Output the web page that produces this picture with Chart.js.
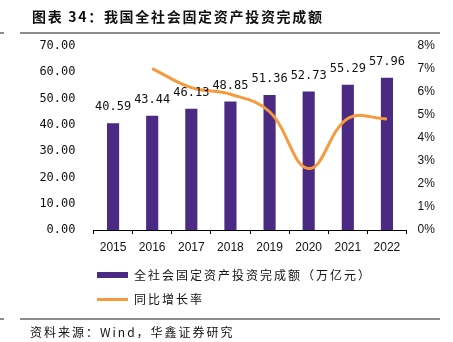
<!DOCTYPE html>
<html>
<head>
<meta charset="utf-8">
<script src="https://cdn.jsdelivr.net/npm/chart.js@4.4.0/dist/chart.umd.min.js"></script>
<style>
  body { margin: 0; background: #fff; }
  #wrap { position: relative; width: 453px; height: 342px; overflow: hidden; }
  #box { position: absolute; left: 0; top: 0; width: 453px; height: 342px; }
  .txt { position: absolute; white-space: nowrap; color: #111; font-family: "Noto Sans CJK SC", sans-serif; }
  #title { left: 32px; top: 6px; font-size: 14px; font-weight: bold; letter-spacing: 1.7px; }
  .rule { position: absolute; height: 2px; background: #8c8c8c; }
  .lg { font-size: 12px; letter-spacing: 2px; }
  #src { left: 30px; top: 323px; font-size: 12px; letter-spacing: 2px; }
</style>
</head>
<body>
<div id="wrap">
  <div id="box"><canvas id="chartInvest"></canvas></div>
  <div class="txt" id="title">图表 34：我国全社会固定资产投资完成额</div>
  <div class="rule" style="left:20px; top:32px; width:420px;"></div>
  <div class="rule" style="left:0; top:32px; width:4px;"></div>
  <div style="position:absolute; left:97px; top:272px; width:31px; height:6px; background:#4b2a84;"></div>
  <div class="txt lg" style="left:134px; top:266px;">全社会固定资产投资完成额（万亿元）</div>
  <div style="position:absolute; left:97px; top:298px; width:31px; height:3px; background:#f79a3e;"></div>
  <div class="txt lg" style="left:134px; top:290px;">同比增长率</div>
  <div class="rule" style="left:20px; top:318px; width:420px;"></div>
  <div class="rule" style="left:0; top:318px; width:4px;"></div>
  <div class="txt" id="src">资料来源：Wind，华鑫证券研究</div>
</div>
<script>
// 年份、完成额（万亿元）、同比增速（%）
const years = ['2015', '2016', '2017', '2018', '2019', '2020', '2021', '2022'];
const investTotal = [40.59, 43.44, 46.13, 48.85, 51.36, 52.73, 55.29, 57.96];
const growthRate = [null, 7.02, 6.19, 5.90, 5.14, 2.67, 4.85, 4.83];

const valueFont = { family: 'DejaVu Sans Mono', size: 12 };
const plainFont = { family: 'Liberation Sans, Arial, sans-serif', size: 12 };

// 柱顶数值标签（柱形是第 2 个数据集）
const barLabels = {
  id: 'barLabels',
  afterDatasetsDraw(chart) {
    const ctx = chart.ctx;
    const meta = chart.getDatasetMeta(1);
    ctx.save();
    ctx.font = '12px "DejaVu Sans Mono"';
    ctx.fillStyle = '#111';
    ctx.textAlign = 'center';
    ctx.textBaseline = 'bottom';
    meta.data.forEach((bar, i) => {
      ctx.fillText(investTotal[i].toFixed(2), bar.x, bar.y - 10);
    });
    ctx.restore();
  }
};

new Chart(document.getElementById('chartInvest'), {
  data: {
    labels: years,
    datasets: [
      {
        type: 'line',
        label: '同比增长率',
        data: growthRate,
        yAxisID: 'y1',
        borderColor: '#f79a3e',
        borderWidth: 3,
        pointRadius: 0,
        tension: 0.4,
        order: 0
      },
      {
        type: 'bar',
        label: '全社会固定资产投资完成额（万亿元）',
        data: investTotal,
        yAxisID: 'y',
        backgroundColor: '#4b2a84',
        categoryPercentage: 1,
        barPercentage: 0.31,
        order: 1
      }
    ]
  },
  options: {
    responsive: true,
    maintainAspectRatio: false,
    animation: false,
    layout: { padding: { top: 46, left: 0, right: 0, bottom: 0 } },
    plugins: { legend: { display: false }, tooltip: { enabled: false } },
    scales: {
      x: {
        grid: { offset: true, drawOnChartArea: false, color: '#000', tickLength: 4 },
        border: { color: '#000', width: 1 },
        ticks: { color: '#111', font: plainFont, padding: 6, maxRotation: 0 },
        afterFit(s) { s.height = 112; }
      },
      y: {
        position: 'left',
        min: 0,
        max: 70,
        grid: { display: false, drawTicks: false },
        border: { display: false },
        ticks: { stepSize: 10, color: '#111', font: valueFont, padding: 18, callback: v => v.toFixed(2) },
        afterFit(s) { s.width = 93.5; }
      },
      y1: {
        position: 'right',
        min: 0,
        max: 8,
        grid: { display: false, drawTicks: false },
        border: { display: false },
        ticks: { stepSize: 1, color: '#111', font: plainFont, padding: 11, callback: v => v + '%' },
        afterFit(s) { s.width = 46.5; }
      }
    }
  },
  plugins: [barLabels]
});
</script>
</body>
</html>
